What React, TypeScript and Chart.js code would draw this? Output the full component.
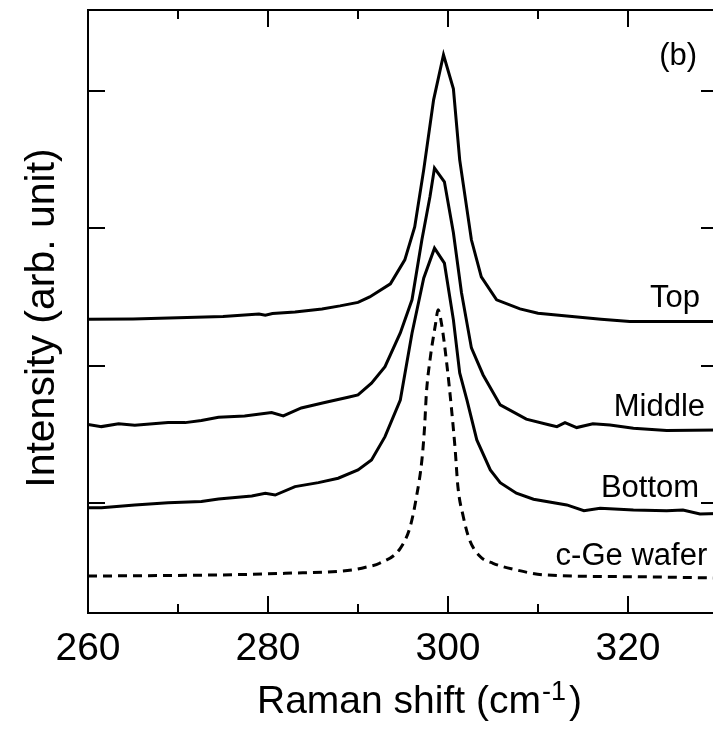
import React, { useEffect, useRef } from "react";
import { Chart, registerables } from "chart.js";

Chart.register(...registerables);

// Raman shift (cm^-1) and intensity (arb. unit, offset traces)
const topX = [260, 265, 270, 275, 279, 279.7, 280.5, 283, 286, 288, 290, 291.3, 293.6, 295.2, 296.3, 297.3, 298.4, 299.5, 300.6, 301.3, 302.6, 303.7, 305.4, 308, 310, 313.2, 317, 320.2, 324.3, 330];
const topY = [2.338, 2.341, 2.349, 2.359, 2.376, 2.368, 2.380, 2.392, 2.414, 2.436, 2.461, 2.501, 2.596, 2.771, 3.011, 3.426, 3.936, 4.264, 4.016, 3.499, 2.917, 2.647, 2.48, 2.414, 2.383, 2.363, 2.339, 2.322, 2.322, 2.322];

const middleX = [260, 261.5, 263.4, 265.2, 268.9, 270.8, 272.6, 274.5, 277.4, 280.4, 281.7, 283.7, 286.3, 288.9, 290.0, 291.5, 293, 294.7, 296, 297.1, 298.0, 298.5, 299.6, 300.6, 301.5, 302.6, 303.9, 305.8, 308.7, 311.3, 312.1, 313, 314.3, 316.1, 318, 320.6, 324.3, 330];
const middleY = [1.573, 1.557, 1.577, 1.567, 1.586, 1.586, 1.601, 1.625, 1.635, 1.659, 1.635, 1.693, 1.732, 1.771, 1.788, 1.873, 1.994, 2.239, 2.48, 2.917, 3.232, 3.439, 3.339, 2.968, 2.531, 2.13, 1.933, 1.715, 1.611, 1.569, 1.557, 1.586, 1.55, 1.577, 1.569, 1.545, 1.528, 1.533];

const bottomX = [260, 261.5, 265.2, 268.9, 272.6, 274.5, 278.2, 279.7, 280.8, 283, 285.6, 287.8, 290, 291.5, 293, 294.7, 296, 297.3, 298.5, 299.6, 300.6, 301.3, 302.1, 303.2, 304.7, 305.8, 307.6, 309.5, 313.2, 315.1, 316.9, 320.6, 324.3, 326.1, 328, 330];
const bottomY = [0.967, 0.967, 0.987, 1.003, 1.011, 1.03, 1.052, 1.072, 1.059, 1.12, 1.149, 1.181, 1.242, 1.314, 1.484, 1.751, 2.237, 2.638, 2.856, 2.747, 2.334, 1.948, 1.751, 1.46, 1.242, 1.149, 1.072, 1.028, 0.987, 0.945, 0.963, 0.95, 0.945, 0.95, 0.921, 0.925];

const cgeX = [260, 274.5, 281.9, 289.3, 291.1, 292.4, 294.7, 295.8, 296.5, 297.1, 297.4, 297.6, 298, 298.6, 298.9, 299.3, 299.9, 300.4, 300.8, 301.1, 301.7, 302.4, 303.6, 305, 307.3, 310.8, 320.9, 330];
const cgeY = [0.469, 0.477, 0.489, 0.513, 0.537, 0.562, 0.671, 0.829, 1.047, 1.314, 1.557, 1.8, 2.043, 2.298, 2.407, 2.298, 1.994, 1.679, 1.387, 1.12, 0.901, 0.732, 0.61, 0.562, 0.518, 0.477, 0.464, 0.455];

const seriesNames = ["Top", "Middle", "Bottom", "c-Ge wafer"];
const xMajorTicks = [260, 280, 300, 320];
const xMinorTicks = [270, 290, 310, 330];
const xTickLabels = ["260", "280", "300", "320"];
const yTicks = [1, 2, 3, 4];
const panelLabel = "(b)";

const FONT = "'Liberation Sans', Arial, sans-serif";

function pts(xs: number[], ys: number[]) {
  return xs.map((x, i) => ({ x, y: ys[i] }));
}

export default function App() {
  const ref = useRef<HTMLCanvasElement | null>(null);

  useEffect(() => {
    if (!ref.current) return;

    const decor = {
      id: "decor",
      afterDatasetsDraw(chart: any) {
        const { ctx, chartArea: a, scales } = chart;
        const xs = scales.x;
        const ys = scales.y;
        ctx.save();
        ctx.strokeStyle = "#000";
        ctx.fillStyle = "#000";
        // frame
        ctx.lineWidth = 2;
        ctx.beginPath();
        ctx.moveTo(a.left, a.top);
        ctx.lineTo(a.right, a.top);
        ctx.lineTo(a.right, a.bottom);
        ctx.lineTo(a.left, a.bottom);
        ctx.closePath();
        ctx.stroke();
        // x ticks (inward, bottom and top)
        const drawX = (vals: number[], len: number) => {
          vals.forEach((v) => {
            const px = Math.round(xs.getPixelForValue(v));
            ctx.beginPath();
            ctx.moveTo(px, a.bottom);
            ctx.lineTo(px, a.bottom - len);
            ctx.moveTo(px, a.top);
            ctx.lineTo(px, a.top + len);
            ctx.stroke();
          });
        };
        drawX(xMajorTicks, 17);
        drawX(xMinorTicks, 9);
        // y ticks (inward, left and right)
        yTicks.forEach((v) => {
          const py = Math.round(ys.getPixelForValue(v));
          ctx.beginPath();
          ctx.moveTo(a.left, py);
          ctx.lineTo(a.left + 17, py);
          ctx.moveTo(a.right, py);
          ctx.lineTo(a.right - 17, py);
          ctx.stroke();
        });
        // x tick labels
        ctx.font = `39px ${FONT}`;
        ctx.textAlign = "center";
        ctx.textBaseline = "alphabetic";
        xMajorTicks.forEach((v, i) => {
          ctx.fillText(xTickLabels[i], xs.getPixelForValue(v), a.bottom + 47);
        });
        // x title with superscript
        ctx.textAlign = "left";
        const t1 = "Raman shift (cm";
        let tx = 257;
        const tb = a.bottom + 100;
        ctx.font = `39px ${FONT}`;
        ctx.fillText(t1, tx, tb);
        tx += ctx.measureText(t1).width + 1;
        ctx.font = `27px ${FONT}`;
        ctx.fillText("-1", tx, tb - 13);
        tx += ctx.measureText("-1").width + 3;
        ctx.font = `39px ${FONT}`;
        ctx.fillText(")", tx, tb);
        // y title
        ctx.save();
        ctx.translate(54, 318);
        ctx.rotate(-Math.PI / 2);
        ctx.font = `41px ${FONT}`;
        ctx.textAlign = "center";
        ctx.fillText("Intensity (arb. unit)", 0, 0);
        ctx.restore();
        // series labels
        ctx.font = `31px ${FONT}`;
        ctx.textAlign = "right";
        const anchors = [
          [328.0, 2.431],
          [328.56, 1.635],
          [327.9, 1.043],
          [328.8, 0.55],
        ];
        seriesNames.forEach((n, i) => {
          ctx.fillText(n, xs.getPixelForValue(anchors[i][0]), ys.getPixelForValue(anchors[i][1]));
        });
        ctx.fillText(panelLabel, xs.getPixelForValue(327.67), ys.getPixelForValue(4.191));
        ctx.restore();
      },
    };

    const solid = (name: string, xs: number[], ys: number[]) => ({
      label: name,
      data: pts(xs, ys),
      borderColor: "#000",
      borderWidth: 3,
      pointRadius: 0,
      tension: 0,
      fill: false,
    });

    const chart = new Chart(ref.current, {
      type: "line",
      data: {
        datasets: [
          solid(seriesNames[0], topX, topY),
          solid(seriesNames[1], middleX, middleY),
          solid(seriesNames[2], bottomX, bottomY),
          {
            label: seriesNames[3],
            data: pts(cgeX, cgeY),
            borderColor: "#000",
            borderWidth: 3,
            borderDash: [9, 6],
            pointRadius: 0,
            cubicInterpolationMode: "monotone",
            fill: false,
          },
        ],
      },
      options: {
        animation: false,
        responsive: false,
        maintainAspectRatio: false,
        layout: { padding: { left: 88, right: 4, top: 10, bottom: 118 } },
        plugins: { legend: { display: false }, tooltip: { enabled: false } },
        scales: {
          x: { type: "linear", min: 260, max: 330, display: false },
          y: { type: "linear", min: 0.2, max: 4.59, display: false },
        },
      },
      plugins: [decor],
    } as any);

    return () => chart.destroy();
  }, []);

  return (
    <div style={{ position: "absolute", left: 0, top: 0, width: 713, height: 731, overflow: "hidden", background: "#fff" }}>
      <canvas ref={ref} width={722} height={731} style={{ width: 722, height: 731, display: "block" }} />
    </div>
  );
}
